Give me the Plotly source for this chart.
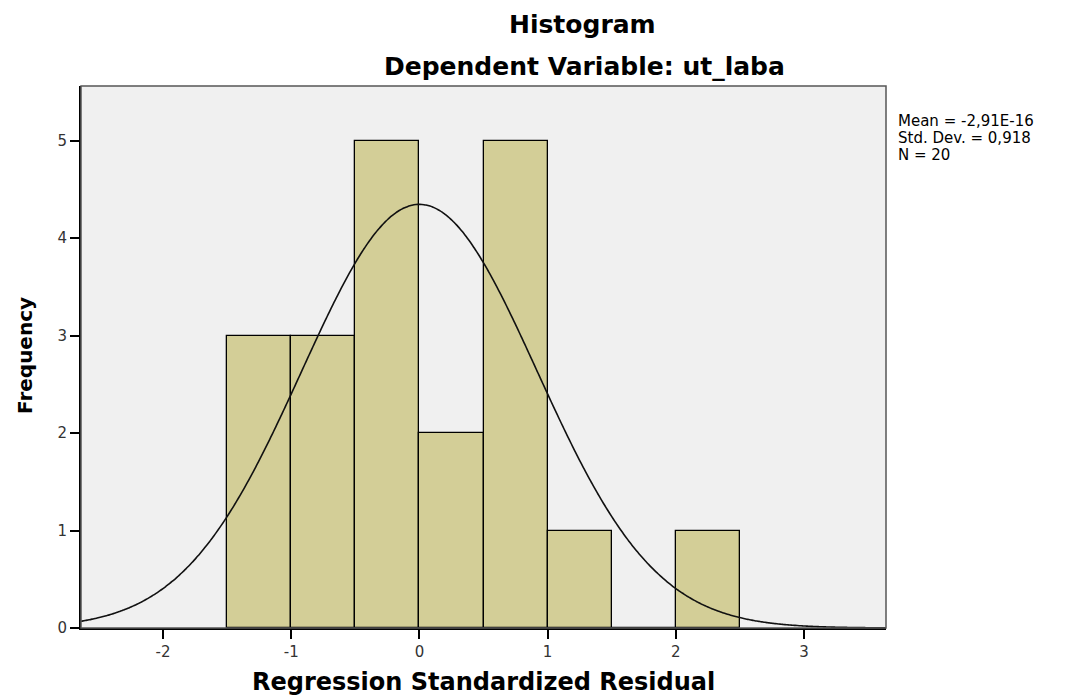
import numpy as np
import plotly.graph_objects as go

# Data
bin_left = [-1.5, -1.0, -0.5, 0.0, 0.5, 1.0, 1.5, 2.0]
counts = [3, 3, 5, 2, 5, 1, 0, 1]
bin_width = 0.5
mean_val = -2.91e-16
sd_val = 0.918
n_val = 20
x_ticks = [-2, -1, 0, 1, 2, 3]
y_ticks = [0, 1, 2, 3, 4, 5]
stats_lines = ["Mean = -2,91E-16", "Std. Dev. = 0,918", "N = 20"]

x_range = [-2.64, 3.64]
y_range = [0, 5.56]

centers = [b + bin_width / 2 for b in bin_left]

# Normal curve implied by the displayed statistics
xs = np.linspace(x_range[0], x_range[1], 400)
ys = n_val * bin_width * np.exp(-0.5 * ((xs - mean_val) / sd_val) ** 2) / (sd_val * np.sqrt(2 * np.pi))

fig = go.Figure()
fig.add_trace(go.Bar(
    x=centers, y=counts, width=bin_width,
    marker=dict(color="#D3CE97", line=dict(color="#000000", width=1.3)),
    hoverinfo="skip",
))
fig.add_trace(go.Scatter(
    x=xs, y=ys, mode="lines",
    line=dict(color="#111111", width=1.6, shape="spline"),
    hoverinfo="skip",
))

OFF = 8  # page body margin
W, H = 1069 - OFF, 695 - OFF
PL, PR, PT, PB = 81, 886, 86, 628  # plot box in screen pixels
L = PL - OFF
T = PT - OFF
R = W - (PR - OFF)
B = H - (PB - OFF)
pw = PR - PL
ph = PB - PT


def px_x(px):
    return (px - PL) / pw


def px_y(py):
    return (PB - py) / ph


title_font = "DejaVu Sans, Verdana, sans-serif"
tick_font = "DejaVu Sans, Verdana, sans-serif"

ann = []
ann.append(dict(text="<b>Histogram</b>", x=px_x(582), y=px_y(24),
                font=dict(family=title_font, size=25, color="#000000")))
ann.append(dict(text="<b>Dependent Variable: ut_laba</b>", x=px_x(584), y=px_y(67),
                font=dict(family=title_font, size=25, color="#000000")))
ann.append(dict(text="<b>Regression Standardized Residual</b>", x=px_x(483), y=px_y(682),
                font=dict(family=title_font, size=24, color="#000000")))
ann.append(dict(text="<b>Frequency</b>", x=px_x(25), y=px_y(356), textangle=-90,
                font=dict(family=title_font, size=20, color="#000000")))
for a in ann:
    a.update(xref="paper", yref="paper", showarrow=False,
             xanchor="center", yanchor="middle")

stat_y = [121, 138, 155]
for line, yy in zip(stats_lines, stat_y):
    ann.append(dict(
        text=line, xref="paper", yref="paper",
        x=px_x(896), y=px_y(yy), align="left",
        showarrow=False, xanchor="left", yanchor="middle",
        font=dict(family=tick_font, size=15, color="#000000"),
    ))

fig.update_layout(
    width=W, height=H,
    margin=dict(l=L, r=R, t=T, b=B),
    paper_bgcolor="#FFFFFF",
    plot_bgcolor="#F0F0F0",
    showlegend=False,
    bargap=0,
    annotations=ann,
    shapes=[dict(type="rect", xref="paper", yref="paper", x0=0, y0=0, x1=1, y1=1,
                 line=dict(color="#555555", width=1.5), layer="above")],
)
fig.update_xaxes(
    range=x_range, tickvals=x_ticks, ticktext=[str(v) for v in x_ticks],
    showgrid=False, zeroline=False,
    showline=True, linecolor="#000000", linewidth=2,
    ticks="outside", ticklen=9, tickcolor="#000000", tickwidth=1.5,
    tickfont=dict(family=tick_font, size=15, color="#333333"),
)
fig.update_yaxes(
    range=y_range, tickvals=y_ticks, ticktext=[str(v) for v in y_ticks],
    showgrid=False, zeroline=False,
    showline=True, linecolor="#000000", linewidth=2,
    ticks="outside", ticklen=9, tickcolor="#000000", tickwidth=1.5,
    tickfont=dict(family=tick_font, size=15, color="#333333"),
)

fig.write_html("out.html")
